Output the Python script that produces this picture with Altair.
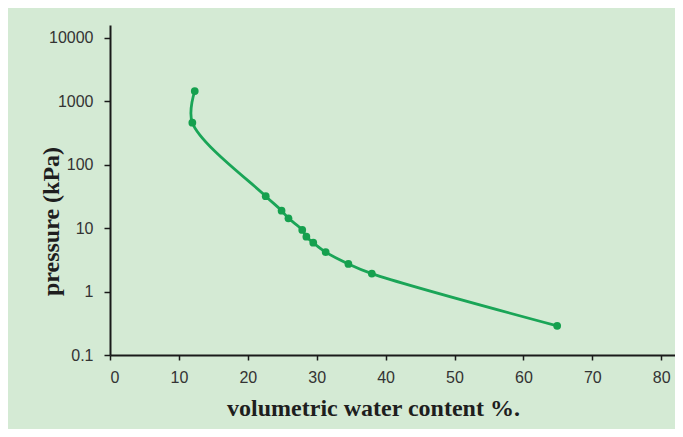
import altair as alt
import pandas as pd

# data
water = [12.3, 11.95, 22.6, 24.9, 25.9, 27.9, 28.5, 29.5, 31.3, 34.6, 38.0, 64.9]
pressure = [1450, 460, 32, 18.9, 14.3, 9.4, 7.35, 5.9, 4.2, 2.73, 1.92, 0.288]
x_ticks = [0, 10, 20, 30, 40, 50, 60, 70, 80]
y_ticks = [0.1, 1, 10, 100, 1000, 10000]

df = pd.DataFrame({"water": water, "pressure": pressure, "idx": list(range(len(water)))})

LINE = "#1aa557"
AX = "#1a1a1a"

x_enc = alt.X(
    "water:Q",
    scale=alt.Scale(domain=[0, 82], nice=False, zero=False),
    axis=alt.Axis(
        values=x_ticks,
        title="volumetric water content %.",
        grid=False,
        domainColor=AX,
        domainWidth=2,
        tickColor=AX,
        tickWidth=1.5,
        tickSize=5,
        labelPadding=9,
        labelFont="Liberation Sans",
        labelFontSize=16,
        labelColor="#333333",
        titleFont="Liberation Serif",
        titleFontSize=24,
        titleFontWeight="bold",
        titleColor="#1e1e1e",
        titleX=263,
        titleY=60,
        titleAlign="center",
        titleBaseline="alphabetic",
    ),
)
y_enc = alt.Y(
    "pressure:Q",
    scale=alt.Scale(type="log", domain=[0.1, 16000], nice=False),
    axis=alt.Axis(
        values=y_ticks,
        format="~g",
        title="pressure (kPa)",
        grid=False,
        domainColor=AX,
        domainWidth=2,
        tickColor=AX,
        tickWidth=1.5,
        tickSize=6,
        labelPadding=11,
        labelFont="Liberation Sans",
        labelFontSize=16,
        labelColor="#333333",
        titleFont="Liberation Serif",
        titleFontSize=24,
        titleFontWeight="bold",
        titleColor="#1e1e1e",
        titleX=-52,
        titleY=196,
        titleAngle=270,
        titleAlign="center",
        titleBaseline="alphabetic",
    ),
)

line = alt.Chart(df).mark_line(interpolate="catmull-rom", color=LINE, strokeWidth=2.8).encode(
    x=x_enc, y=y_enc, order="idx:Q"
)
pts = alt.Chart(df).mark_circle(size=60, opacity=1, color="#15a04e").encode(x=x_enc, y=y_enc)

chart = (
    alt.layer(line, pts)
    .properties(
        width=565,
        height=330,
        autosize=alt.AutoSizeParams(type="none"),
        padding={"left": 102, "top": 17, "right": 0, "bottom": 74},
        background="#d4ead4",
    )
    .configure_view(stroke=None)
)

chart.save("out.html", embed_options={"renderer": "svg", "actions": False})
